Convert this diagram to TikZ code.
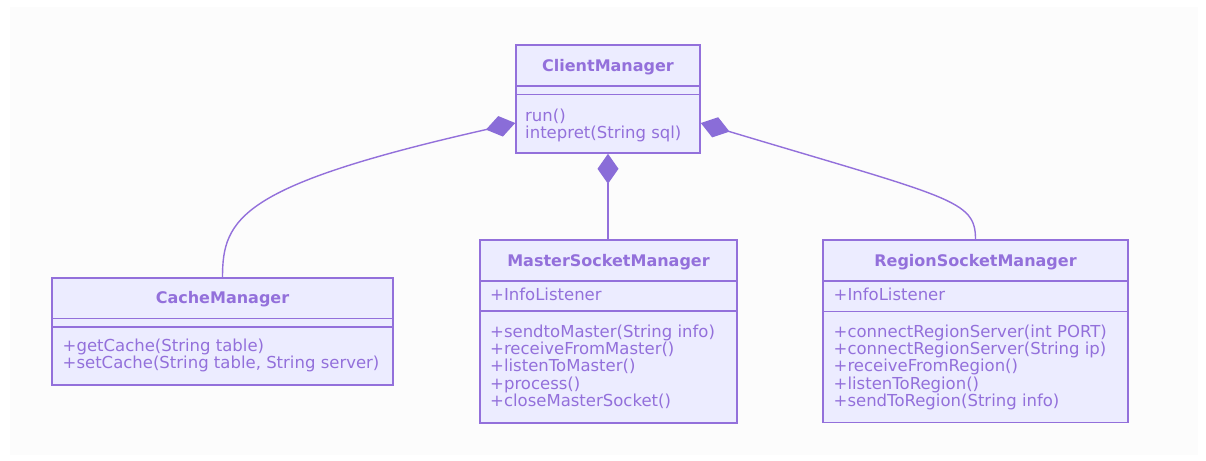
\documentclass[tikz,border=0pt]{standalone}
\usepackage{fontspec}
\setmainfont{DejaVu Sans}
\usetikzlibrary{arrows.meta}
\definecolor{umlline}{HTML}{9370DB}
\definecolor{umlfill}{HTML}{ECECFF}
\definecolor{umltext}{HTML}{9370DB}
\definecolor{umldia}{HTML}{8A6DD8}
\definecolor{bggray}{HTML}{FCFCFC}
\tikzset{
  cls/.style={draw=umlline, fill=umlfill, line width=1.6pt, rectangle, inner sep=0pt},
  divider/.style={draw=umlline, line width=1.6pt},
  ttl/.style={anchor=base, inner sep=0pt, text=umltext, font=\fontsize{16}{17.4}\selectfont\bfseries},
  mem/.style={anchor=base west, inner sep=0pt, text=umltext, font=\fontsize{16.5}{17.4}\selectfont},
  comp/.style={draw=umlline, line width=1.4pt, arrows={Diamond[length=30pt,width=21pt,color=umldia]-}},
}
\begin{document}
\begin{tikzpicture}[x=1pt,y=-1pt]
\useasboundingbox (0,0) rectangle (1206,460);
\fill[white] (0,0) rectangle (1206,460);
\fill[bggray] (10,7) rectangle (1198,455);

% ClientManager
\node[cls, minimum width=184pt, minimum height=108pt] (client) at (608,99) {};
\draw[divider] (516,86) -- (700,86);
\draw[divider] (516,94.3) -- (700,94.3);
\node[ttl] (clientT) at (608,71) {ClientManager};
\node[mem] (clientM1) at (525,121.5) {run()};
\node[mem] (clientM2) at (525,138.5) {intepret(String sql)};

% CacheManager
\node[cls, minimum width=341pt, minimum height=107pt] (cache) at (222.5,331.5) {};
\draw[divider] (52,318.3) -- (393,318.3);
\draw[divider] (52,326.7) -- (393,326.7);
\node[ttl] (cacheT) at (222.5,303.5) {CacheManager};
\node[mem] (cacheM1) at (62.5,351.5) {+getCache(String table)};
\node[mem] (cacheM2) at (62.5,368.5) {+setCache(String table, String server)};

% MasterSocketManager
\node[cls, minimum width=257pt, minimum height=183pt] (master) at (608.5,331.5) {};
\draw[divider] (480,281) -- (737,281);
\draw[divider] (480,311) -- (737,311);
\node[ttl] (masterT) at (608.5,266) {MasterSocketManager};
\node[mem] (masterA1) at (490,300) {+InfoListener};
\node[mem] (masterM1) at (490,337) {+sendtoMaster(String info)};
\node[mem] (masterM2) at (490,354.4) {+receiveFromMaster()};
\node[mem] (masterM3) at (490,371.8) {+listenToMaster()};
\node[mem] (masterM4) at (490,389.2) {+process()};
\node[mem] (masterM5) at (490,406.6) {+closeMasterSocket()};

% RegionSocketManager
\node[cls, minimum width=305pt, minimum height=182.5pt] (region) at (975.5,331.25) {};
\draw[divider] (823,281) -- (1128,281);
\draw[divider] (823,311.5) -- (1128,311.5);
\node[ttl] (regionT) at (975.5,266) {RegionSocketManager};
\node[mem] (regionA1) at (833.5,300) {+InfoListener};
\node[mem] (regionM1) at (833.5,337) {+connectRegionServer(int PORT)};
\node[mem] (regionM2) at (833.5,354.4) {+connectRegionServer(String ip)};
\node[mem] (regionM3) at (833.5,371.8) {+receiveFromRegion()};
\node[mem] (regionM4) at (833.5,389.2) {+listenToRegion()};
\node[mem] (regionM5) at (833.5,406.6) {+sendToRegion(String info)};

% Composition connectors
\draw[comp] ([yshift=-24pt]client.west) .. controls (241,185) and (222.5,218) .. (cache.north);
\draw[comp] (client.south) -- (client.south |- master.north);
\draw[comp] ([yshift=-24pt]client.east) .. controls (951,198) and (975.5,200) .. (region.north);
\end{tikzpicture}
\end{document}
